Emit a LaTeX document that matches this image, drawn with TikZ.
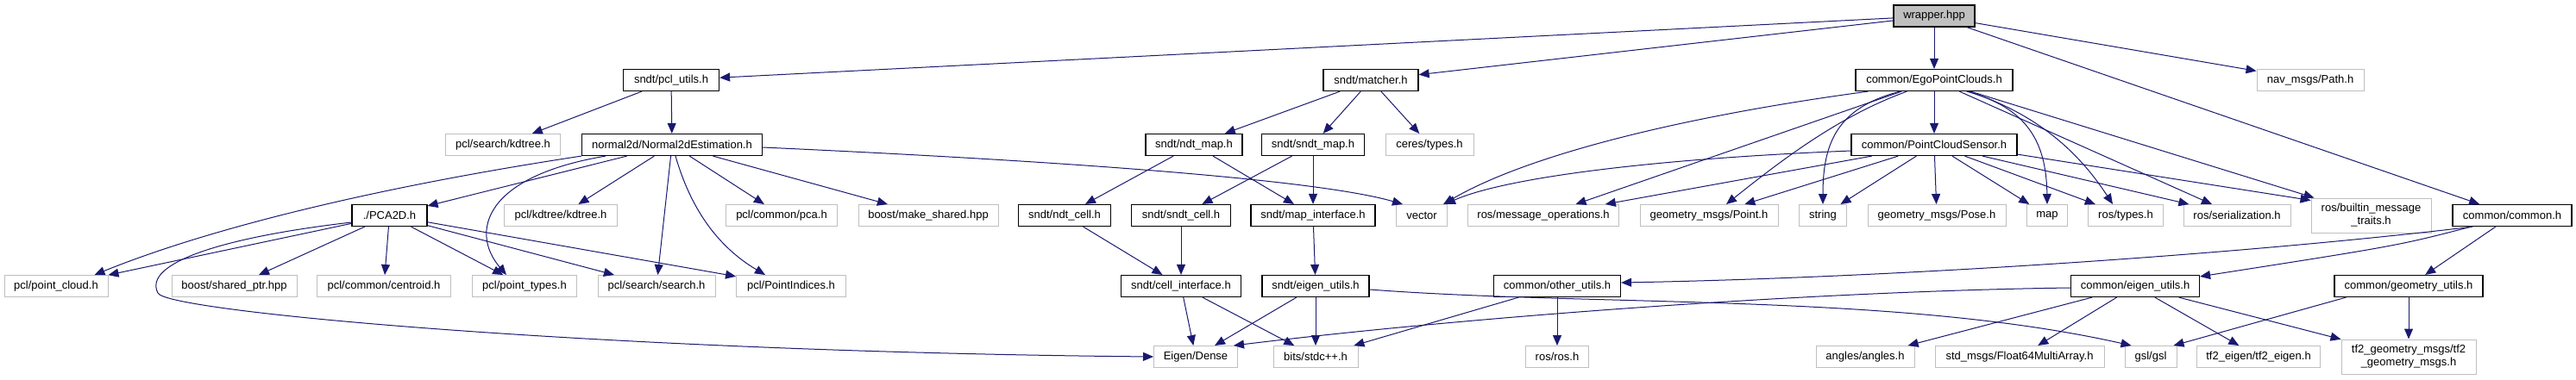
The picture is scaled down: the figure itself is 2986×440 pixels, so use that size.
\documentclass[tikz,border=0pt]{standalone}
\usepackage{fontspec}
\setmainfont{Liberation Sans}
\usetikzlibrary{arrows.meta,calc}
\definecolor{edgec}{HTML}{191970}
\definecolor{lgray}{HTML}{BFBFBF}
\begin{document}
\begin{tikzpicture}[x=0.5pt,y=-0.5pt,
  every node/.style={font=\fontsize{6.5}{7.5}\selectfont, inner sep=0pt, minimum height=12.5pt, align=center},
  bk/.style={draw=black, line width=0.6pt},
  gb/.style={draw=lgray, line width=0.5pt},
  wd/.style={minimum width=#1*0.5pt},
  lnk/.style={draw=edgec, line width=0.5pt, -{Triangle[length=6pt,width=5pt]}}]
\useasboundingbox (0,0) rectangle (2986,440);
% row 0
\node[bk, fill=lgray, wd=94] (wrapper) at (2242,18.5) {wrapper.hpp};
% row 1
\node[bk, wd=111] (pclutils) at (778,93) {sndt/pcl\_utils.h};
\node[bk, wd=110] (matcher) at (1589,93) {sndt/matcher.h};
\node[bk, wd=182] (ego) at (2242,93) {common/EgoPointClouds.h};
\node[gb, wd=124] (path) at (2678,93) {nav\_msgs/Path.h};
% row 2
\node[gb, wd=133] (kdtreeS) at (583,168) {pcl/search/kdtree.h};
\node[bk, wd=209] (n2d) at (779,168) {normal2d/Normal2dEstimation.h};
\node[bk, wd=112] (ndtmap) at (1384,168) {sndt/ndt\_map.h};
\node[bk, wd=119] (sndtmap) at (1522,168) {sndt/sndt\_map.h};
\node[gb, wd=102] (ceres) at (1657,168) {ceres/types.h};
\node[bk, wd=192] (sensor) at (2242,168) {common/PointCloudSensor.h};
% row 3
\node[bk, wd=87] (pca2d) at (451.5,250) {./PCA2D.h};
\node[gb, wd=131] (kdtreeK) at (650,250) {pcl/kdtree/kdtree.h};
\node[gb, wd=129] (pca) at (906,250) {pcl/common/pca.h};
\node[gb, wd=162] (mkshared) at (1076,250) {boost/make\_shared.hpp};
\node[bk, wd=107] (ndtcell) at (1234,250) {sndt/ndt\_cell.h};
\node[bk, wd=115] (sndtcell) at (1369,250) {sndt/sndt\_cell.h};
\node[bk, wd=144] (mapif) at (1522,250) {sndt/map\_interface.h};
\node[gb, wd=59] (vector) at (1648,250) {vector};
\node[gb, wd=175] (msgops) at (1789,250) {ros/message\_operations.h};
\node[gb, wd=160] (point) at (1981,250) {geometry\_msgs/Point.h};
\node[gb, wd=55] (string) at (2113,250) {string};
\node[gb, wd=160] (pose) at (2245,250) {geometry\_msgs/Pose.h};
\node[gb, wd=47] (map) at (2373,250) {map};
\node[gb, wd=87] (rtypes) at (2464,250) {ros/types.h};
\node[gb, wd=124] (serial) at (2593,250) {ros/serialization.h};
\node[gb, wd=139, minimum height=20pt] (builtin) at (2748.5,250) {ros/builtin\_message\\\_traits.h};
\node[bk, wd=138] (common) at (2912,250) {common/common.h};
% row 4
\node[gb, wd=120] (pcloud) at (65,332) {pcl/point\_cloud.h};
\node[gb, wd=145] (shptr) at (271.5,332) {boost/shared\_ptr.hpp};
\node[gb, wd=155] (centroid) at (445,332) {pcl/common/centroid.h};
\node[gb, wd=121] (ptypes) at (608,332) {pcl/point\_types.h};
\node[gb, wd=136] (search) at (761,332) {pcl/search/search.h};
\node[gb, wd=127] (pidx) at (917,332) {pcl/PointIndices.h};
\node[bk, wd=139] (cellif) at (1369,332) {sndt/cell\_interface.h};
\node[bk, wd=124] (seigen) at (1525,332) {sndt/eigen\_utils.h};
\node[bk, wd=147] (other) at (1805,332) {common/other\_utils.h};
\node[bk, wd=149] (ceigen) at (2475,332) {common/eigen\_utils.h};
\node[bk, wd=172] (geom) at (2792,332) {common/geometry\_utils.h};
% row 5
\node[gb, wd=97] (eigenD) at (1386,414) {Eigen/Dense};
\node[gb, wd=98] (bits) at (1525,414) {bits/stdc++.h};
\node[gb, wd=73] (rosros) at (1805,414) {ros/ros.h};
\node[gb, wd=114] (angles) at (2162,414) {angles/angles.h};
\node[gb, wd=196] (float) at (2341,414) {std\_msgs/Float64MultiArray.h};
\node[gb, wd=60] (gsl) at (2493,414) {gsl/gsl};
\node[gb, wd=143] (tfe) at (2618,414) {tf2\_eigen/tf2\_eigen.h};
\node[gb, wd=156, minimum height=20pt] (tfg) at (2792,414) {tf2\_geometry\_msgs/tf2\\\_geometry\_msgs.h};

% wrapper
\draw[lnk] (wrapper) -- (pclutils);
\draw[lnk] (wrapper) -- (matcher);
\draw[lnk] (wrapper) -- (ego);
\draw[lnk] (wrapper) -- (path);
\draw[lnk] (wrapper) -- (common);
% pcl_utils
\draw[lnk] (pclutils) -- (kdtreeS);
\draw[lnk] (pclutils) -- (n2d);
% Normal2dEstimation
\draw[lnk] (n2d) -- (pca2d);
\draw[lnk] (n2d) -- (kdtreeK);
\draw[lnk] (n2d) -- (search);
\draw[lnk] (n2d) -- (pca);
\draw[lnk] (n2d) -- (mkshared);
\draw[lnk] (n2d.south west) .. controls (450,215) and (250,262) .. ($(pcloud.north east)+(-16,0)$);
\draw[lnk] ($(n2d.south west)+(28,0)$) .. controls (560,205) and (545,270) .. ($(ptypes.north west)+(40,0)$);
\draw[lnk] ($(n2d.south)+(4,0)$) .. controls (800,240) and (830,285) .. ($(pidx.north west)+(34,0)$);
\draw[lnk] ($(n2d.east)+(0,3)$) .. controls (1300,190) and (1540,212) .. ($(vector.north west)+(8,0)$);
% PCA2D
\draw[lnk] (pca2d) -- (pcloud);
\draw[lnk] (pca2d) -- (shptr);
\draw[lnk] (pca2d) -- (centroid);
\draw[lnk] (pca2d) -- (ptypes);
\draw[lnk] (pca2d) -- (search);
\draw[lnk] (pca2d) -- (pidx);
\draw[lnk] ($(pca2d.west)+(0,8)$) .. controls (260,275) and (165,305) .. (183,340) .. controls (192,362) and (700,408) .. (eigenD.west);
% matcher
\draw[lnk] (matcher) -- (ndtmap);
\draw[lnk] (matcher) -- (sndtmap);
\draw[lnk] (matcher) -- (ceres);
\draw[lnk] (ndtmap) -- (ndtcell);
\draw[lnk] (ndtmap) -- (mapif);
\draw[lnk] (sndtmap) -- (sndtcell);
\draw[lnk] (sndtmap) -- (mapif);
\draw[lnk] (ndtcell) -- (cellif);
\draw[lnk] (sndtcell) -- (cellif);
\draw[lnk] (mapif) -- (seigen);
\draw[lnk] (cellif) -- (eigenD);
\draw[lnk] (cellif) -- (bits);
\draw[lnk] (seigen) -- (eigenD);
\draw[lnk] (seigen) -- (bits);
\draw[lnk] ($(seigen.east)+(0,4)$) .. controls (1850,356) and (2200,340) .. ($(gsl.north west)+(8,0)$);
% EgoPointClouds
\draw[lnk] (ego) -- (sensor);
\draw[lnk] ($(ego.south west)+(15,0)$) .. controls (1950,135) and (1770,180) .. ($(vector.north east)+(-5,0)$);
\draw[lnk] (ego) -- (msgops);
\draw[lnk] ($(ego.south west)+(60,0)$) .. controls (2130,135) and (2060,190) .. ($(point.north)+(20,0)$);
\draw[lnk] ($(ego.south west)+(52,0)$) .. controls (2130,125) and (2113,165) .. (string.north);
\draw[lnk] ($(ego.south east)+(-54,0)$) .. controls (2350,125) and (2372,165) .. (map.north);
\draw[lnk] ($(ego.south east)+(-52,0)$) .. controls (2370,135) and (2415,185) .. ($(rtypes.north)+(-15,0)$);
\draw[lnk] (ego) -- (serial);
\draw[lnk] (ego) -- (builtin);
% PointCloudSensor
\draw[lnk] ($(sensor.west)+(0,7)$) .. controls (1900,185) and (1740,208) .. ($(vector.north east)+(-3,0)$);
\draw[lnk] (sensor) -- (msgops);
\draw[lnk] (sensor) -- (point);
\draw[lnk] (sensor) -- (string);
\draw[lnk] (sensor) -- (pose);
\draw[lnk] (sensor) -- (map);
\draw[lnk] (sensor) -- (rtypes);
\draw[lnk] (sensor) -- (serial);
\draw[lnk] ($(sensor.south east)+(0,-2)$) -- ($(builtin.north west)+(0,3)$);
% common
\draw[lnk] ($(common.south west)+(24,0)$) .. controls (2600,295) and (2200,322) .. ($(other.east)+(0,-4)$);
\draw[lnk] ($(common.south west)+(22,0)$) .. controls (2780,285) .. ($(ceigen.north east)+(0,2)$);
\draw[lnk] (common) -- (geom);
\draw[lnk] (other) -- (rosros);
\draw[lnk] (other) -- (bits);
\draw[lnk] ($(ceigen.west)+(0,2)$) .. controls (2100,338) and (1700,368) .. ($(eigenD.north east)+(-5,0)$);
\draw[lnk] (ceigen) -- (angles);
\draw[lnk] (ceigen) -- (float);
\draw[lnk] (ceigen) -- (tfe);
\draw[lnk] (ceigen) -- (tfg);
\draw[lnk] ($(geom.south west)+(14,0)$) -- ($(gsl.north east)+(-4,0)$);
\draw[lnk] (geom) -- (tfg);
\end{tikzpicture}
\end{document}
